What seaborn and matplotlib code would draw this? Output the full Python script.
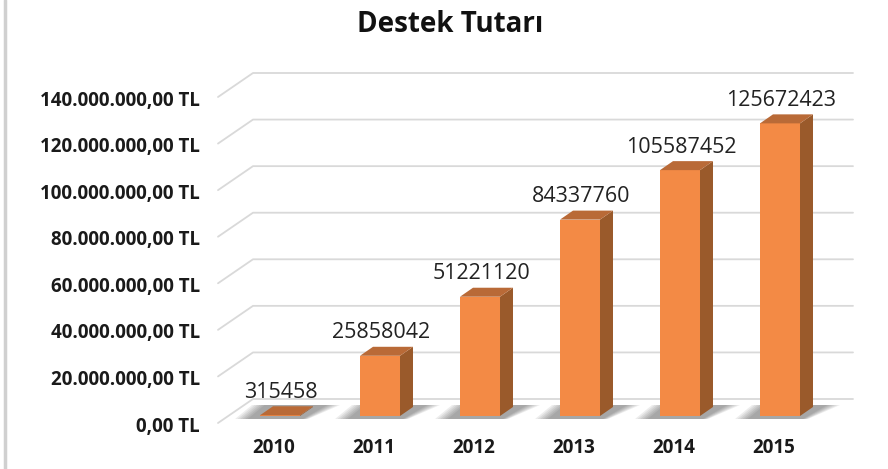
import matplotlib
matplotlib.use('Agg')
import matplotlib.pyplot as plt
from matplotlib.patches import Polygon
import matplotlib.transforms as mtransforms
import numpy as np
import pandas as pd
import seaborn as sns

# values
years = ['2010', '2011', '2012', '2013', '2014', '2015']
amounts = [315458, 25858042, 51221120, 84337760, 105587452, 125672423]
y_ticks = [0, 20e6, 40e6, 60e6, 80e6, 100e6, 120e6, 140e6]
title = 'Destek Tutarı'

front_col = '#F38A45'
side_col = '#9A5A2B'
top_col = '#B96A37'
grid_col = '#D9D9D9'


def tl_format(v):
    # 140000000 -> 140.000.000,00 TL
    s = '{:,.2f}'.format(v)
    s = s.replace(',', 'X').replace('.', ',').replace('X', '.')
    return s + ' TL'


df = pd.DataFrame({'year': years, 'amount': amounts})

sns.set_style('white')
plt.rcParams['font.family'] = ['Open Sans', 'DejaVu Sans']

W, H = 888, 469
fig = plt.figure(figsize=(W / 100, H / 100), dpi=100)
# plane in which the bars stand (pixels), grid front/back planes are offsets of it
left_px, right_px, bottom_px, top_px = 218, 853, 416, 90
ax = fig.add_axes([left_px / W, (H - bottom_px) / H,
                   (right_px - left_px) / W, (bottom_px - top_px) / H])

sns.barplot(data=df, x='year', y='amount', color=front_col, width=0.4,
            saturation=1, ax=ax, zorder=5, linewidth=0)

ax.set_xlim(-0.62, 5.73)
ax.set_ylim(0, 140e6)
ax.set_xlabel('')
ax.set_ylabel('')
for s in ax.spines.values():
    s.set_visible(False)
ax.grid(False)

# data units per pixel
ux = (ax.get_xlim()[1] - ax.get_xlim()[0]) / (right_px - left_px)
uy = (ax.get_ylim()[1] - ax.get_ylim()[0]) / (bottom_px - top_px)

# back wall gridlines with the diagonal connectors to the front edge
x0 = ax.get_xlim()[0]
for v in y_ticks:
    ax.plot([x0, x0 + 35 * ux, ax.get_xlim()[1]],
            [v - 7 * uy, v + 17 * uy, v + 17 * uy],
            color=grid_col, lw=1.3, clip_on=False, zorder=1)

# side and top faces + soft shadow for each bar
dx, dy = 13 * ux, 9 * uy
for bar in ax.patches[:len(years)]:
    bx, bw, bh = bar.get_x(), bar.get_width(), bar.get_height()
    # shadow on the floor (stacked translucent layers)
    for k in range(6):
        g = (6 - k) * 2.5
        shadow = Polygon([(bx - (10 + g) * ux, -3 * uy),
                          (bx + bw + (2 + g * 0.4) * ux, -3 * uy),
                          (bx + bw + dx + (12 + g) * ux, dy + 2 * uy),
                          (bx + dx - (6 + g) * ux, dy + 2 * uy)],
                         closed=True, facecolor='#222222', alpha=0.08,
                         edgecolor='none', zorder=3, clip_on=False)
        ax.add_patch(shadow)
    side = Polygon([(bx + bw, 0), (bx + bw + dx, dy),
                    (bx + bw + dx, bh + dy), (bx + bw, bh)],
                   closed=True, facecolor=side_col, edgecolor='none',
                   zorder=4, clip_on=False)
    top = Polygon([(bx, bh), (bx + bw, bh), (bx + bw + dx, bh + dy),
                   (bx + dx, bh + dy)],
                  closed=True, facecolor=top_col, edgecolor='none',
                  zorder=6, clip_on=False)
    ax.add_patch(side)
    ax.add_patch(top)
    ax.annotate(str(int(round(bh))), xy=(bx + bw / 2 + 1 * ux, bh),
                xytext=(0, 16.5), textcoords='offset points',
                ha='center', va='center', fontsize=15.5, color='#222222',
                zorder=7, annotation_clip=False)

ax.set_yticks(y_ticks)
ax.set_yticklabels([tl_format(v) for v in y_ticks], fontsize=13.5,
                   fontweight='bold', color='#1a1a1a')
ax.tick_params(axis='y', length=0, pad=13)
down = mtransforms.ScaledTranslation(0, -8 / 100, fig.dpi_scale_trans)
for lab in ax.get_yticklabels():
    lab.set_transform(lab.get_transform() + down)

ax.set_xticks(range(len(years)))
ax.set_xticklabels(years, fontsize=13.5, fontweight='bold', color='#1a1a1a')
ax.tick_params(axis='x', length=0, pad=16)
shift = mtransforms.ScaledTranslation(-6 / 100, 0, fig.dpi_scale_trans)
for lab in ax.get_xticklabels():
    lab.set_transform(lab.get_transform() + shift)

fig.text(0.507, 1 - 24 / H, title, ha='center', va='center',
         fontsize=20, fontweight='bold', color='#111111')

# thin frame line at the left edge
fig.add_artist(plt.Line2D([4.5 / W, 4.5 / W], [0, 1], color='#D0D0D0',
                          lw=2.5, transform=fig.transFigure))

plt.savefig('out.png', dpi=100)
